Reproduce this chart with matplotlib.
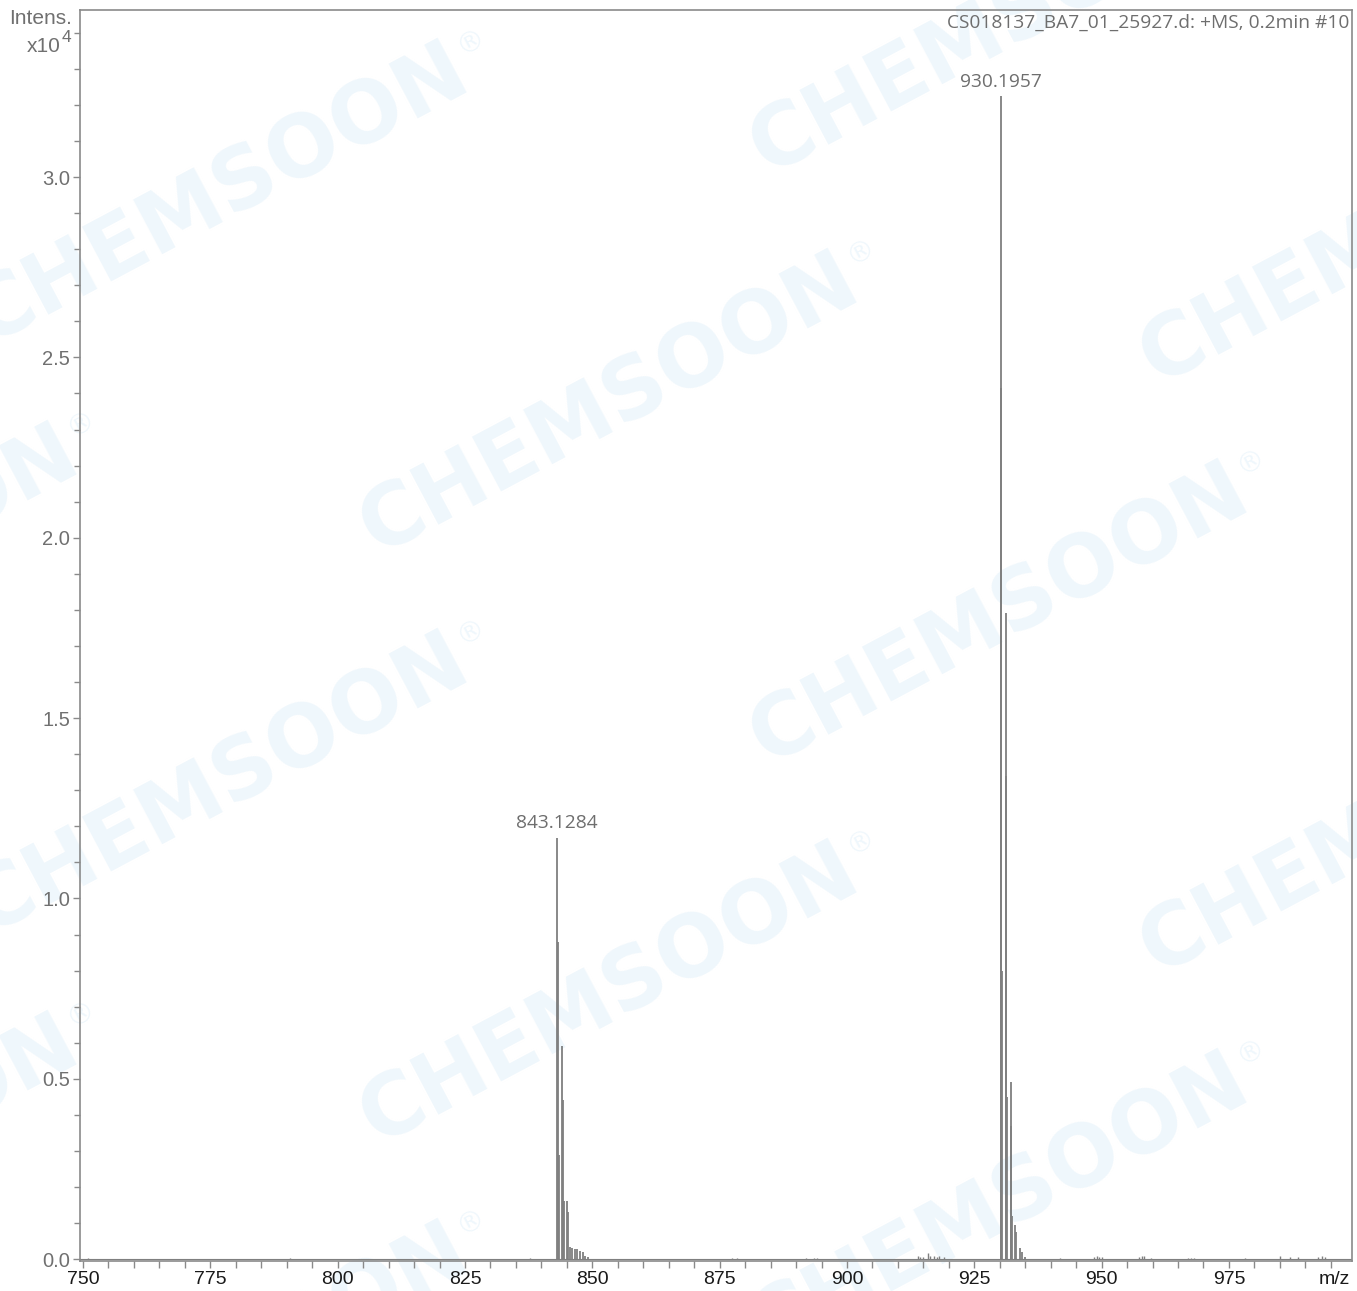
import numpy as np
import matplotlib
matplotlib.use("Agg")
import matplotlib.pyplot as plt
from matplotlib.ticker import MultipleLocator, FormatStrFormatter

W, H = 1357, 1291

# spectrum sticks, intensity in units of 1e4
mz_843 = [843.11, 843.22, 843.38, 844.05, 844.25, 844.45, 845.10, 845.30, 845.60,
          846.08, 846.60, 847.08, 847.60, 848.08, 848.60, 849.15]
int_843 = [1.169, 0.878, 0.29, 0.59, 0.44, 0.16, 0.16, 0.13, 0.035,
           0.032, 0.028, 0.028, 0.024, 0.02, 0.01, 0.005]

mz_930 = [930.18, 930.30, 930.41, 931.16, 931.27, 931.36, 932.14, 932.24, 932.40,
          933.05, 933.25, 934.04, 934.40, 935.00]
int_930 = [3.224, 2.415, 0.80, 1.79, 1.34, 0.45, 0.49, 0.37, 0.12,
           0.095, 0.075, 0.03, 0.02, 0.005]

mz_noise = [751.0, 790.6, 837.8, 877.5, 878.5, 892.0, 893.5, 894.2,
            914.0, 914.4, 915.0, 916.0, 916.3, 917.0, 917.6, 918.0, 919.0,
            941.8, 948.5, 949.0, 949.5, 950.0, 957.3, 957.9, 958.4, 959.6,
            967.0, 967.6, 968.2, 978.2, 985.0, 987.0, 988.5, 992.5, 993.2, 993.8]
int_noise = [0.004, 0.004, 0.004, 0.004, 0.003, 0.004, 0.003, 0.003,
             0.008, 0.005, 0.005, 0.018, 0.010, 0.008, 0.006, 0.010, 0.006,
             0.004, 0.006, 0.008, 0.006, 0.005, 0.006, 0.010, 0.008, 0.004,
             0.004, 0.004, 0.004, 0.004, 0.008, 0.007, 0.006, 0.006, 0.008, 0.006]

peak_labels = ["843.1284", "930.1957"]
peak_pos = [(843.11, 1.169), (930.18, 3.224)]

title = "CS018137_BA7_01_25927.d: +MS, 0.2min #10"

# watermark centres (pixels), only the ones seen in the picture
wm_centres = [(220, 195), (610, 405), (1000, 615), (1390, 825),
              (220, 785), (610, 995), (1000, 1205), (1390, 235),
              (1000, 25), (-170, 577), (-170, 1167), (220, 1375)]

fig = plt.figure(figsize=(W / 100, H / 100), dpi=100)
ax = fig.add_axes([80 / W, 1 - 1261 / H, (1352 - 80) / W, (1261 - 10) / H])
ax.set_facecolor("none")

# watermark
ang = 28
wm_col = "#eff7fc"
ca, sa = np.cos(np.radians(ang)), np.sin(np.radians(ang))
for cx, cy in wm_centres:
    fig.text(cx / W, 1 - cy / H, "CHEMSOON", fontsize=61, fontweight="bold",
             family="DejaVu Sans", color=wm_col, rotation=ang,
             rotation_mode="anchor", ha="center", va="center", zorder=-5)
    rx = cx + 268 * ca + 30 * sa
    ry = cy - 268 * sa - 30 * ca
    fig.text(rx / W, 1 - ry / H, "®", fontsize=20, family="DejaVu Sans",
             color=wm_col, rotation=ang, rotation_mode="anchor",
             ha="center", va="center", zorder=-5)

gray = "#7f7f7f"
ax.vlines(mz_noise, 0, int_noise, color=gray, lw=1.0)
ax.vlines(mz_843, 0, int_843, color=gray, lw=1.3)
ax.vlines(mz_930, 0, int_930, color=gray, lw=1.3)
ax.axhline(0, color=gray, lw=0.8)

for lab, (x, y) in zip(peak_labels, peak_pos):
    ax.annotate(lab, (x, y), xytext=(0, 4), textcoords="offset points",
                ha="center", va="bottom", fontsize=13.8, color="#6e6e6e",
                family="Open Sans")

ax.set_xlim(749.41, 999.16)
ax.set_ylim(-0.005, 3.463)

ax.xaxis.set_major_locator(MultipleLocator(25))
ax.xaxis.set_minor_locator(MultipleLocator(5))
ax.yaxis.set_major_locator(MultipleLocator(0.5))
ax.yaxis.set_minor_locator(MultipleLocator(0.1))
ax.yaxis.set_major_formatter(FormatStrFormatter("%.1f"))

for s in ax.spines.values():
    s.set_color("#8a8a8a")
    s.set_linewidth(1.2)

ax.tick_params(axis="x", which="both", direction="out", length=5, width=1,
               color="#8a8a8a", labelsize=14, labelcolor="#1a1a1a", pad=2)
ax.tick_params(axis="y", which="major", direction="out", length=5, width=1,
               color="#8a8a8a", labelsize=14.5, labelcolor="#707070", pad=2)
ax.tick_params(axis="y", which="minor", direction="out", length=4, width=1,
               color="#8a8a8a")
for t in ax.get_xticklabels() + ax.get_yticklabels():
    t.set_family("Liberation Sans")

ax.text(0.998, 0.997, title, transform=ax.transAxes, ha="right", va="top",
        fontsize=13.8, color="#6e6e6e", family="Open Sans")

fig.text(72 / W, 1 - 19 / H, "Intens.", ha="right", va="center",
         fontsize=15, color="#707070", family="Liberation Sans")
fig.text(61 / W, 1 - 46 / H, "x10", ha="right", va="center",
         fontsize=15, color="#707070", family="Liberation Sans")
fig.text(62 / W, 1 - 38 / H, "4", ha="left", va="center",
         fontsize=12.5, color="#707070", family="Liberation Sans")
fig.text(1350 / W, 1 - 1280 / H, "m/z", ha="right", va="center",
         fontsize=14, color="#1a1a1a", family="Liberation Sans")

fig.savefig("out.png", dpi=100)
